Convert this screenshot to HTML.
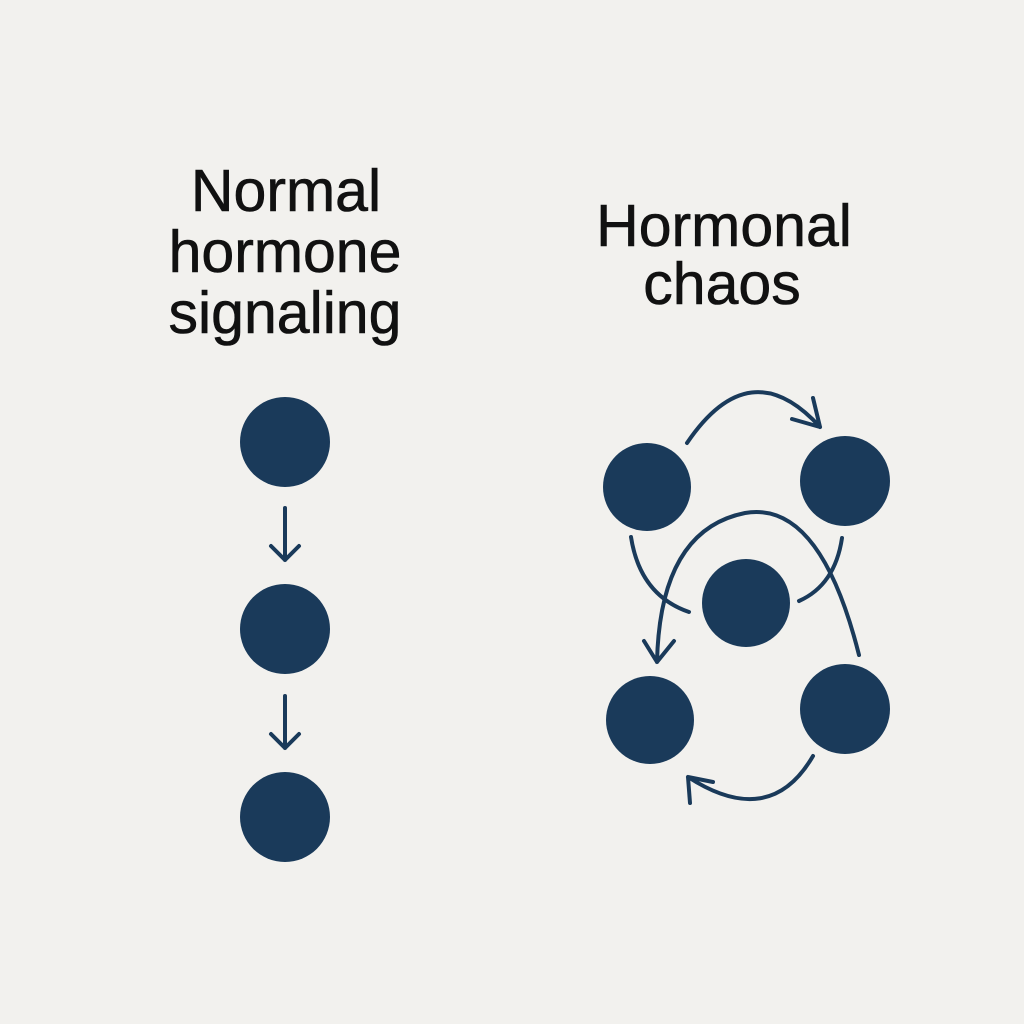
<!DOCTYPE html>
<html><head><style>
html,body{margin:0;padding:0;background:#f2f1ee;}
svg{display:block}
text{font-family:"Liberation Sans",sans-serif;font-size:59px;fill:#111;text-anchor:middle;stroke:#111;stroke-width:0.6}
</style></head><body>
<svg width="1024" height="1024" viewBox="0 0 1024 1024">
<rect width="1024" height="1024" fill="#f2f1ee"/>
<text x="286" y="211">Normal</text>
<text x="285" y="272">hormone</text>
<text x="285" y="333">signaling</text>
<text x="724" y="246">Hormonal</text>
<text x="722" y="304">chaos</text>
<g fill="#1a3a5a">
<circle cx="285" cy="442" r="45"/>
<circle cx="285" cy="629" r="45"/>
<circle cx="285" cy="817" r="45"/>
<circle cx="647" cy="487" r="44"/>
<circle cx="845" cy="481" r="45"/>
<circle cx="746" cy="603" r="44"/>
<circle cx="650" cy="720" r="44"/>
<circle cx="845" cy="709" r="45"/>
</g>
<g fill="none" stroke="#1a3a5a" stroke-width="4" stroke-linecap="round" stroke-linejoin="round">
<path d="M285 508 V560 M271 546 L285 560 L299 546"/>
<path d="M285 696 V748 M271 734 L285 748 L299 734"/>
<path d="M687 443 Q750 350 820 427 M813 398 L820 427 L792 419"/>
<path d="M631 537 Q640 595 689 612"/>
<path d="M842 538 Q835 585 799 601"/>
<path d="M859 655 Q820 500 745 513 Q660 530 657 662 M644 641 L657 662 L674 641"/>
<path d="M813 756 Q770 830 688 777 M688 777 L690 803 M688 777 L713 782"/>
</g>
</svg>
</body></html>
